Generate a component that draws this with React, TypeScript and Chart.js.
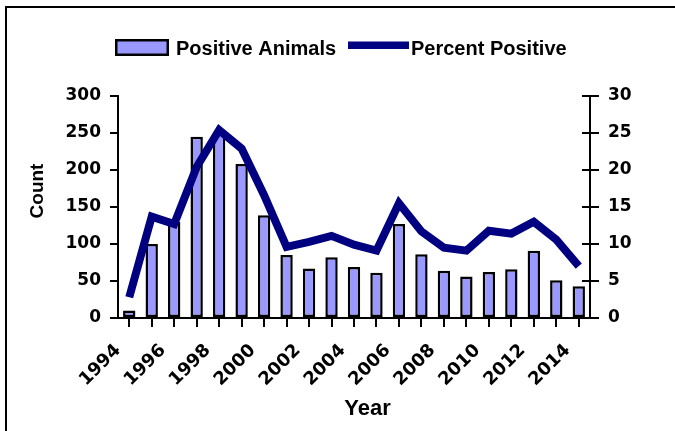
import { useEffect, useRef } from 'react';
import { Chart, registerables } from 'chart.js';

Chart.register(...registerables);

// Years covered (one bar per year), tick labels shown at every other tick
const years = [1994, 1995, 1996, 1997, 1998, 1999, 2000, 2001, 2002, 2003, 2004, 2005, 2006, 2007, 2008, 2009, 2010, 2011, 2012, 2013, 2014];
const xTickLabels = ['1994', '1996', '1998', '2000', '2002', '2004', '2006', '2008', '2010', '2012', '2014'];

// Series values
const positiveAnimals = [10, 100, 130, 245, 250, 208, 139, 85, 67, 82, 69, 61, 127, 86, 64, 56, 62, 66, 91, 51, 43];
const percentPositive = [2.8, 13.7, 12.7, 20.4, 25.4, 22.9, 16.6, 9.6, 10.3, 11.1, 9.9, 9.1, 15.5, 11.7, 9.5, 9.1, 11.8, 11.4, 13.0, 10.6, 7.0];

// Axis ranges
const countAxis = { min: 0, max: 300, step: 50 };
const percentAxis = { min: 0, max: 30, step: 5 };

const seriesNames = ['Positive Animals', 'Percent Positive'];
const axisTitles = { y: 'Count', x: 'Year' };

const BAR_FILL = '#9999FF';
const LINE_COLOR = '#000080';
const TICK_FONT = { family: '"DejaVu Sans", sans-serif', size: 17, weight: 'bold' as const };
const TEXT_FONT = '"Liberation Sans", Arial, sans-serif';

const decorPlugin = {
  id: 'decor',
  afterDraw(chart: any) {
    const ctx: CanvasRenderingContext2D = chart.ctx;
    const area = chart.chartArea;
    ctx.save();
    // outer frame (top + left)
    ctx.strokeStyle = '#000';
    ctx.lineWidth = 2;
    ctx.beginPath();
    ctx.moveTo(6, 431);
    ctx.lineTo(6, 7);
    ctx.lineTo(675, 7);
    ctx.stroke();

    // inner half of right-axis ticks
    const y2 = chart.scales.y2;
    ctx.lineWidth = 2;
    y2.ticks.forEach((_t: any, i: number) => {
      const py = Math.round(y2.getPixelForTick(i));
      ctx.beginPath();
      ctx.moveTo(area.right - 8, py);
      ctx.lineTo(area.right, py);
      ctx.stroke();
    });

    // legend
    ctx.fillStyle = BAR_FILL;
    ctx.fillRect(115, 39, 54, 17);
    ctx.strokeStyle = '#000';
    ctx.lineWidth = 2.5;
    ctx.strokeRect(116.25, 40.25, 51.5, 14.5);
    ctx.fillStyle = LINE_COLOR;
    ctx.fillRect(348, 41.5, 61, 7.5);

    ctx.fillStyle = '#000';
    ctx.font = `bold 20px ${TEXT_FONT}`;
    ctx.textAlign = 'left';
    ctx.textBaseline = 'alphabetic';
    ctx.fillText(seriesNames[0], 176, 55);
    ctx.fillText(seriesNames[1], 411, 55);

    // axis titles
    ctx.font = `bold 22px ${TEXT_FONT}`;
    ctx.textAlign = 'center';
    ctx.fillText(axisTitles.x, 367.5, 415);

    ctx.save();
    ctx.translate(43, 191);
    ctx.rotate(-Math.PI / 2);
    ctx.font = `bold 19px ${TEXT_FONT}`;
    ctx.textAlign = 'center';
    ctx.fillText(axisTitles.y, 0, 0);
    ctx.restore();

    ctx.restore();
  },
};

export default function App() {
  const ref = useRef<HTMLCanvasElement | null>(null);

  useEffect(() => {
    document.body.style.margin = '0';
    const canvas = ref.current;
    if (!canvas) return;

    const barData = positiveAnimals.map((v, i) => ({ x: i + 0.5, y: v }));
    const lineData = percentPositive.map((v, i) => ({ x: i + 0.5, y: v }));

    const chart = new Chart(canvas, {
      type: 'bar',
      data: {
        datasets: [
          {
            type: 'bar',
            label: seriesNames[0],
            data: barData as any,
            backgroundColor: BAR_FILL,
            borderColor: '#000',
            borderWidth: 2.5,
            borderSkipped: false,
            barPercentage: 1,
            categoryPercentage: 0.55,
            yAxisID: 'y',
            order: 1,
          },
          {
            type: 'line',
            label: seriesNames[1],
            data: lineData as any,
            borderColor: LINE_COLOR,
            borderWidth: 8,
            pointRadius: 0,
            tension: 0,
            borderJoinStyle: 'miter',
            borderCapStyle: 'butt',
            yAxisID: 'y2',
            order: 0,
            clip: false as any,
          },
        ],
      },
      options: {
        animation: false,
        responsive: false,
        devicePixelRatio: 1,
        layout: { padding: { top: 96, left: 0, right: 0, bottom: 0 } },
        plugins: {
          legend: { display: false },
          tooltip: { enabled: false },
          title: { display: false },
        },
        scales: {
          x: {
            type: 'linear',
            min: 0,
            max: years.length,
            offset: false,
            afterFit: (s: any) => {
              s.height = 113;
            },
            ticks: {
              stepSize: 1,
              autoSkip: false,
              maxRotation: 45,
              minRotation: 45,
              padding: 13,
              color: '#000',
              font: { ...TICK_FONT, size: 18 },
              callback: (v: any) => {
                const n = Number(v);
                if (Number.isInteger(n) && n % 2 === 0 && n / 2 < xTickLabels.length) return xTickLabels[n / 2];
                return '';
              },
            },
            grid: { drawOnChartArea: false, drawTicks: true, tickLength: 9, color: '#000', lineWidth: 2 },
            border: { display: true, color: '#000', width: 2 },
          },
          y: {
            type: 'linear',
            position: 'left',
            min: countAxis.min,
            max: countAxis.max,
            afterFit: (s: any) => {
              s.width = 118;
            },
            ticks: { stepSize: countAxis.step, padding: 9, color: '#000', font: TICK_FONT },
            grid: { drawOnChartArea: false, drawTicks: true, tickLength: 8, color: '#000', lineWidth: 2 },
            border: { display: true, color: '#000', width: 2 },
          },
          y2: {
            type: 'linear',
            position: 'right',
            min: percentAxis.min,
            max: percentAxis.max,
            afterFit: (s: any) => {
              s.width = 85;
            },
            ticks: { stepSize: percentAxis.step, padding: 9, color: '#000', font: TICK_FONT },
            grid: { drawOnChartArea: false, drawTicks: true, tickLength: 9, color: '#000', lineWidth: 2 },
            border: { display: true, color: '#000', width: 2 },
          },
        },
      },
      plugins: [decorPlugin],
    });

    return () => chart.destroy();
  }, []);

  return (
    <div style={{ width: 675, height: 431, position: 'relative', background: '#fff' }}>
      <canvas ref={ref} width={675} height={431} style={{ display: 'block' }} />
    </div>
  );
}
